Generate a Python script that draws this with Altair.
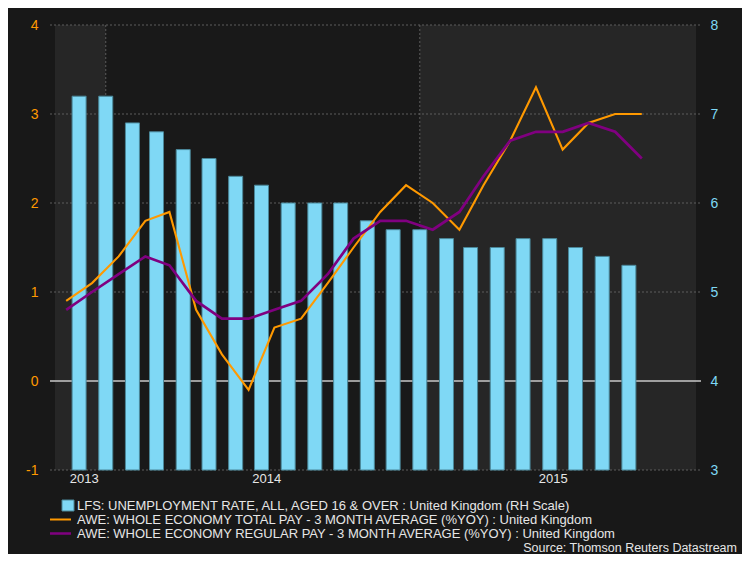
import altair as alt
import pandas as pd

# ---- data ----
unemployment = [7.2, 7.2, 6.9, 6.8, 6.6, 6.5, 6.3, 6.2, 6.0, 6.0, 6.0, 5.8,
                5.7, 5.7, 5.6, 5.5, 5.5, 5.6, 5.6, 5.5, 5.4, 5.3]
total_pay = [0.9, 1.1, 1.4, 1.8, 1.9, 0.8, 0.3, -0.1, 0.6, 0.7, 1.1, 1.5,
             1.9, 2.2, 2.0, 1.7, 2.2, 2.7, 3.3, 2.6, 2.9, 3.0, 3.0]
regular_pay = [0.8, 1.0, 1.2, 1.4, 1.3, 0.9, 0.7, 0.7, 0.8, 0.9, 1.2, 1.6,
               1.8, 1.8, 1.7, 1.9, 2.3, 2.7, 2.8, 2.8, 2.9, 2.8, 2.5]
bar_start = "2013-12-01"
year_labels = ["2013", "2014", "2015"]
year_label_dates = ["2013-12-07", "2014-07-07", "2015-06-05"]
band_starts = ["2013-11-03", "2014-01-01", "2015-01-01"]
band_ends = ["2014-01-01", "2015-01-01", "2015-11-18"]
band_shade = ["light", "dark", "light"]
year_lines = ["2014-01-01", "2015-01-01"]
left_ticks = [-1, 1, 2, 3, 4]
left_labels = [-1, 0, 1, 2, 3, 4]
right_labels = [3, 4, 5, 6, 7, 8]
legend_labels = [
    "LFS: UNEMPLOYMENT RATE, ALL, AGED 16 & OVER : United Kingdom (RH Scale)",
    "AWE: WHOLE ECONOMY TOTAL PAY - 3 MONTH AVERAGE (%YOY) : United Kingdom",
    "AWE: WHOLE ECONOMY REGULAR PAY - 3 MONTH AVERAGE (%YOY) : United Kingdom",
]
source_text = "Source: Thomson Reuters Datastream"

bar_dates = pd.date_range(bar_start, periods=len(unemployment), freq="MS").strftime("%Y-%m-%d")
line_dates = (pd.date_range("2013-11-01", periods=len(total_pay), freq="MS")
              + pd.Timedelta(days=15)).strftime("%Y-%m-%d")

bars_df = pd.DataFrame({"date": bar_dates, "rate": unemployment})
lines_df = pd.DataFrame({"date": list(line_dates) * 2,
                         "value": total_pay + regular_pay,
                         "series": ["total"] * len(total_pay) + ["regular"] * len(regular_pay)})
bands_df = pd.DataFrame({"start": band_starts, "end": band_ends, "shade": band_shade})
grid_df = pd.DataFrame({"v": left_ticks})
zero_df = pd.DataFrame({"v": [0]})
vlines_df = pd.DataFrame({"date": year_lines})
years_df = pd.DataFrame({"date": year_label_dates, "label": year_labels})

W, H = 651, 445
BG = "#181818"
ORANGE = "#ff9900"
PURPLE = "#800080"
BLUE = "#7fd8f5"
FONT = "Liberation Sans"

xscale = alt.Scale(type="utc",
                   domain=[alt.DateTime(year=2013, month=11, date=3, utc=True),
                           alt.DateTime(year=2015, month=11, date=18, utc=True)])
X = lambda f="date": alt.X(f"{f}:T", scale=xscale, axis=None)
left_scale = alt.Scale(domain=[-1, 4], nice=False, zero=False)
right_scale = alt.Scale(domain=[3, 8], nice=False, zero=False)
left_axis = alt.Axis(orient="left", values=left_labels, grid=False, domain=False,
                     ticks=False, tickSize=0, labelPadding=12, labelColor=ORANGE,
                     labelFont=FONT, labelFontSize=14, title=None,
                     labelExpr="datum.value < 0 ? '-' + abs(datum.value) : '' + datum.value")

bands = alt.Chart(bands_df).mark_rect().encode(
    x=alt.X("start:T", scale=xscale, axis=None), x2="end:T",
    y=alt.value(0), y2=alt.value(H),
    color=alt.Color("shade:N", scale=alt.Scale(domain=["light", "dark"],
                                                range=["#262626", "#191919"]), legend=None),
)
grid = alt.Chart(grid_df).mark_rule(color="#5c5c5c", strokeDash=[2, 2], strokeWidth=1).encode(
    y=alt.Y("v:Q", scale=left_scale, axis=left_axis),
    x=alt.value(0), x2=alt.value(W),
)
zero = alt.Chart(zero_df).mark_rule(color="#c8c8c8", strokeWidth=1.5).encode(
    y=alt.Y("v:Q", scale=left_scale, axis=left_axis), x=alt.value(0), x2=alt.value(W))
vlines = alt.Chart(vlines_df).mark_rule(color="#5c5c5c", strokeDash=[2, 2], strokeWidth=1).encode(
    x=X(), y=alt.value(0), y2=alt.value(H))
back = alt.layer(bands, grid, zero, vlines)

bars = alt.Chart(bars_df).mark_bar(size=14, color=BLUE, stroke="#4a8799", strokeWidth=1).encode(
    x=X(),
    y=alt.Y("rate:Q", scale=right_scale,
            axis=alt.Axis(orient="right", values=right_labels, grid=False, domain=False,
                          ticks=False, tickSize=0, labelPadding=9, labelColor=BLUE,
                          labelFont=FONT, labelFontSize=14, title=None)),
    y2=alt.datum(3),
)

lines = alt.Chart(lines_df).mark_line().encode(
    x=X(),
    y=alt.Y("value:Q", scale=left_scale, axis=None),
    color=alt.Color("series:N", scale=alt.Scale(domain=["total", "regular"],
                                                 range=[ORANGE, PURPLE]), legend=None),
    strokeWidth=alt.StrokeWidth("series:N", scale=alt.Scale(domain=["total", "regular"],
                                                             range=[2.1, 2.7]), legend=None),
)

years = alt.Chart(years_df).mark_text(font=FONT, fontSize=13, color="#e6e6e6").encode(
    x=X(), y=alt.value(H + 9), text="label:N")

def legend_text(label, y):
    return alt.Chart(pd.DataFrame({"t": [label]})).mark_text(
        font=FONT, fontSize=13, color="#e6e6e6", align="left", baseline="middle"
    ).encode(x=alt.value(27), y=alt.value(y), text="t:N")

leg_sq = alt.Chart(pd.DataFrame({"t": [legend_labels[0]]})).mark_rect(
    color=BLUE, stroke="#4a8799").encode(
    x=alt.value(12), x2=alt.value(24), y=alt.value(475), y2=alt.value(486))
leg_o = alt.Chart(pd.DataFrame({"t": [legend_labels[1]]})).mark_rule(
    color=ORANGE, strokeWidth=2).encode(x=alt.value(0), x2=alt.value(21), y=alt.value(494.5))
leg_p = alt.Chart(pd.DataFrame({"t": [legend_labels[2]]})).mark_rule(
    color=PURPLE, strokeWidth=2.5).encode(x=alt.value(0), x2=alt.value(21), y=alt.value(508.5))
source = alt.Chart(pd.DataFrame({"t": [source_text]})).mark_text(
    font=FONT, fontSize=12.5, color="#e6e6e6", align="right", baseline="middle"
).encode(x=alt.value(687), y=alt.value(523), text="t:N")

chart = alt.layer(
    back, bars, lines, years,
    legend_text(legend_labels[0], 480.5), legend_text(legend_labels[1], 494.5),
    legend_text(legend_labels[2], 508.5), leg_sq, leg_o, leg_p, source,
).resolve_scale(y="independent", color="independent", strokeWidth="independent").properties(
    width=W, height=H,
    autosize=alt.AutoSizeParams(type="none"),
    padding={"left": 42, "top": 17, "right": 41, "bottom": 84},
    background=BG,
).configure_view(stroke=None)

chart.save("out.html", embed_options={"renderer": "svg", "actions": False})
